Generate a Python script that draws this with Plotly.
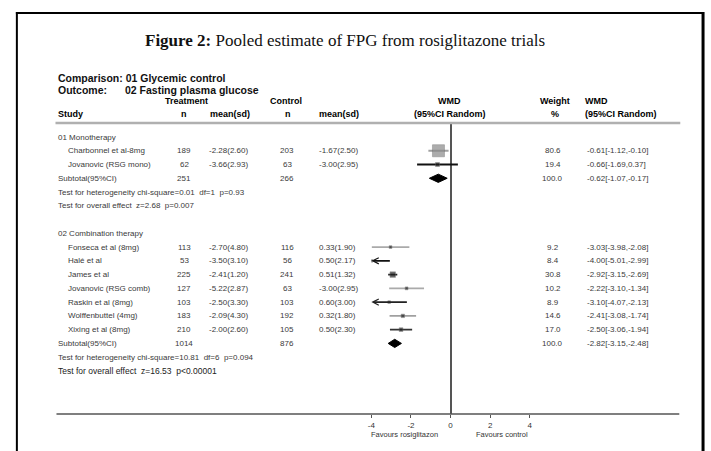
import plotly.graph_objects as go

W, H = 711, 451

# ---------------- data ----------------
group_names = ["01 Monotherapy", "02 Combination therapy"]
studies = ["Charbonnel et al-8mg", "Jovanovic (RSG mono)", "Fonseca et al (8mg)", "Halé et al",
           "James et al", "Jovanovic (RSG comb)", "Raskin et al (8mg)", "Wolffenbuttel (4mg)",
           "Xixing et al (8mg)"]
study_group = [0, 0, 1, 1, 1, 1, 1, 1, 1]
treat_n = [189, 62, 113, 53, 225, 127, 103, 183, 210]
treat_mean = [-2.28, -3.66, -2.70, -3.50, -2.41, -5.22, -2.50, -2.09, -2.00]
treat_sd = [2.60, 2.93, 4.80, 3.10, 1.20, 2.87, 3.30, 4.30, 2.60]
ctrl_n = [203, 63, 116, 56, 241, 63, 103, 192, 105]
ctrl_mean = [-1.67, -3.00, 0.33, 0.50, 0.51, -3.00, 0.60, 0.32, 0.50]
ctrl_sd = [2.50, 2.95, 1.90, 2.17, 1.32, 2.95, 3.00, 1.80, 2.30]
weights = [80.6, 19.4, 9.2, 8.4, 30.8, 10.2, 8.9, 14.6, 17.0]
wmd = [-0.61, -0.66, -3.03, -4.00, -2.92, -2.22, -3.10, -2.41, -2.50]
wmd_lo = [-1.12, -1.69, -3.98, -5.01, -3.15, -3.10, -4.07, -3.08, -3.06]
wmd_hi = [-0.10, 0.37, -2.08, -2.99, -2.69, -1.34, -2.13, -1.74, -1.94]

sub_n_t = [251, 1014]
sub_n_c = [266, 876]
sub_weight = [100.0, 100.0]
sub_wmd = [-0.62, -2.82]
sub_lo = [-1.07, -3.15]
sub_hi = [-0.17, -2.48]
het_chi = [0.01, 10.81]
het_df = [1, 6]
het_p = ["p=0.93", "p=0.094"]
z_val = [2.68, 16.53]
z_p = ["p=0.007", "p<0.00001"]

tick_vals = [-4, -2, 0, 2, 4]
tick_text = ["-4", "-2", "0", "2", "4"]
x_min, x_max = -4, 4

# ---------------- styles ----------------
line_cols = ["#a0a0a0", "#111111", "#aaaaaa", "#111111", "#222222", "#aaaaaa", "#222222", "#a0a0a0", "#333333"]
SANS = "Liberation Sans, Arial, sans-serif"
NARROW = "Liberation Sans Narrow, Arial Narrow, Liberation Sans, sans-serif"
SERIF = "Liberation Serif, Times New Roman, serif"
TXT = "#3a3a3a"
NB = "\u00a0"

def px(x):
    return x / W

def py(y):
    return 1 - y / H

ROW0, ROWH = 137, 13.76
TOP_PX, AXIS_PX = 123, 414

rows = []
for g in range(len(group_names)):
    rows.append(("group", g))
    for i, sg in enumerate(study_group):
        if sg == g:
            rows.append(("study", i))
    rows.append(("sub", g))
    rows.append(("het", g))
    rows.append(("z", g))
    if g < len(group_names) - 1:
        rows.append(("blank", g))

fig = go.Figure()
ann = []

def rtext(x, r, s, anchor="left", size=8, color=TXT, family=SANS):
    ann.append(dict(x=px(x), xref="paper", y=r, yref="y", text=s, showarrow=False,
                    xanchor=anchor, yanchor="middle", font=dict(size=size, color=color, family=family)))

def ptext(x, y, s, anchor="left", size=8, color="#000", family=SANS):
    ann.append(dict(x=px(x), xref="paper", y=py(y), yref="paper", text=s, showarrow=False,
                    xanchor=anchor, yanchor="middle", font=dict(size=size, color=color, family=family)))

X_STUDY, X_STUDY_IND = 53, 63
X_TN, X_TM, X_CN, X_CM = 182, 227, 286, 316
X_W, X_WMD = 554, 587

line_x, line_y = {}, {}
for r, (kind, k) in enumerate(rows):
    if kind == "group":
        rtext(X_STUDY, r, group_names[k])
    elif kind == "study":
        i = k
        rtext(X_STUDY_IND, r, studies[i])
        rtext(X_TN, r, str(treat_n[i]), "center")
        rtext(X_TM, r, f"{treat_mean[i]:.2f}({treat_sd[i]:.2f})", "center")
        rtext(X_CN, r, str(ctrl_n[i]), "center")
        rtext(X_CM, r, f"{ctrl_mean[i]:.2f}({ctrl_sd[i]:.2f})", "left")
        rtext(X_W, r, f"{weights[i]:.1f}", "center")
        rtext(X_WMD, r, f"{wmd[i]:.2f}[{wmd_lo[i]:.2f},{wmd_hi[i]:.2f}]")
        lo = max(wmd_lo[i], x_min)
        hi = min(wmd_hi[i], x_max)
        c = line_cols[i]
        if wmd_lo[i] < x_min:
            ann.append(dict(x=x_min, y=r, xref="x", yref="y", ax=hi, ay=r, axref="x", ayref="y",
                            showarrow=True, arrowhead=5, arrowsize=0.75, arrowwidth=1.6,
                            arrowcolor=c, text=""))
        else:
            line_x.setdefault(c, []).extend([lo, hi, None])
            line_y.setdefault(c, []).extend([r, r, None])
    elif kind == "sub":
        g = k
        rtext(X_STUDY, r, "Subtotal(95%CI)")
        rtext(X_TN, r, str(sub_n_t[g]), "center")
        rtext(X_CN, r, str(sub_n_c[g]), "center")
        rtext(X_W, r, f"{sub_weight[g]:.1f}", "center")
        rtext(X_WMD, r, f"{sub_wmd[g]:.2f}[{sub_lo[g]:.2f},{sub_hi[g]:.2f}]")
        h = 0.30
        fig.add_trace(go.Scatter(
            x=[sub_lo[g], sub_wmd[g], sub_hi[g], sub_wmd[g], sub_lo[g]],
            y=[r, r - h, r, r + h, r], mode="lines", fill="toself",
            fillcolor="#000000", line=dict(color="#000000", width=1), hoverinfo="skip"))
    elif kind == "het":
        g = k
        rtext(X_STUDY, r, f"Test for heterogeneity chi-square={het_chi[g]:.2f}{NB*2}df={het_df[g]}{NB*2}{het_p[g]}")
    elif kind == "z":
        g = k
        rtext(X_STUDY, r, f"Test for overall effect{NB*2}z={z_val[g]:.2f}{NB*2}{z_p[g]}",
              size=8.5 if g == 1 else 8, color="#222" if g == 1 else TXT)

for c in line_x:
    fig.add_trace(go.Scatter(x=line_x[c], y=line_y[c], mode="lines",
                             line=dict(color=c, width=1.8), hoverinfo="skip"))

bx, by, bs, bc = [], [], [], []
for r, (kind, k) in enumerate(rows):
    if kind == "study":
        bx.append(wmd[k])
        by.append(r)
        bs.append(1.5 + 10.5 * weights[k] / max(weights))
        bc.append("#8a8a8a" if weights[k] > 50 else "#222222")
fig.add_trace(go.Scatter(x=bx, y=by, mode="markers",
                         marker=dict(symbol="square", size=bs, color=bc,
                                     line=dict(color="#666", width=0.6)),
                         hoverinfo="skip"))

HB = 9
ptext(53, 78, "<b>Comparison: 01 Glycemic control</b>", size=10.5, family=NARROW, color="#111")
ptext(53, 90, "<b>Outcome:</b>", size=10.5, family=NARROW, color="#111")
ptext(120, 90, "<b>02 Fasting plasma glucose</b>", size=10.5, family=NARROW, color="#111")
ptext(184, 101, "<b>Treatment</b>", "center", HB, family=NARROW)
ptext(285, 101, "<b>Control</b>", "center", HB, family=NARROW)
ptext(450, 101, "<b>WMD</b>", "center", HB, family=NARROW)
ptext(556, 101, "<b>Weight</b>", "center", HB, family=NARROW)
ptext(585, 101, "<b>WMD</b>", "left", HB, family=NARROW)
ptext(53, 114, "<b>Study</b>", "left", HB, family=NARROW)
ptext(182, 114, "<b>n</b>", "center", HB, family=NARROW)
ptext(228, 114, "<b>mean(sd)</b>", "center", HB, family=NARROW)
ptext(287, 114, "<b>n</b>", "center", HB, family=NARROW)
ptext(338, 114, "<b>mean(sd)</b>", "center", HB, family=NARROW)
ptext(450, 114, "<b>(95%CI Random)</b>", "center", HB, family=NARROW)
ptext(556, 114, "<b>%</b>", "center", HB, family=NARROW)
ptext(585, 114, "<b>(95%CI Random)</b>", "left", HB, family=NARROW)

ptext(344, 40, "<b>Figure 2:</b> Pooled estimate of FPG from rosiglitazone trials", "center", 17,
      family=SERIF, color="#111")

ptext(404, 434, "Favours rosiglitazon", "center", 7.5, color="#333")
ptext(503, 434, "Favours control", "center", 7.5, color="#333")

shapes = [
    dict(type="line", xref="paper", yref="paper", x0=px(13), x1=px(13), y0=py(12), y1=0,
         line=dict(color="#000", width=2), layer="above"),
    dict(type="line", xref="paper", yref="paper", x0=px(12), x1=px(707), y0=py(13), y1=py(13),
         line=dict(color="#000", width=2), layer="above"),
    dict(type="line", xref="paper", yref="paper", x0=px(706), x1=px(706), y0=py(12), y1=0,
         line=dict(color="#000", width=3), layer="above"),
    dict(type="line", xref="paper", yref="paper", x0=px(52), x1=px(683), y0=py(123), y1=py(123),
         line=dict(color="#b0b0b0", width=2.5)),
    dict(type="line", xref="paper", yref="paper", x0=px(53), x1=px(682), y0=py(AXIS_PX), y1=py(AXIS_PX),
         line=dict(color="#555", width=1.5)),
]

r_top = (TOP_PX - ROW0) / ROWH
r_bot = (AXIS_PX - ROW0) / ROWH

fig.update_layout(
    width=W, height=H, margin=dict(l=0, r=0, t=0, b=0),
    paper_bgcolor="#ffffff", plot_bgcolor="rgba(0,0,0,0)", showlegend=False,
    annotations=ann, shapes=shapes,
    xaxis=dict(domain=[px(451 + 20 * x_min), px(451 + 20 * x_max)], range=[x_min, x_max],
               tickvals=tick_vals, ticktext=tick_text, ticks="outside", ticklen=3,
               tickcolor="#555", tickwidth=1, showgrid=False, showline=False,
               zeroline=True, zerolinecolor="#555", zerolinewidth=1.5,
               tickfont=dict(size=8, color="#333", family=SANS), fixedrange=True),
    yaxis=dict(domain=[py(AXIS_PX), py(TOP_PX)], range=[r_bot, r_top], visible=False,
               showgrid=False, zeroline=False, fixedrange=True),
)

fig.write_html("out.html", config={"displayModeBar": False})

with open("out.html", "r", encoding="utf-8") as f:
    html = f.read()
html = html.replace("<body>", '<body style="margin:0;padding:0;overflow:hidden">', 1)
with open("out.html", "w", encoding="utf-8") as f:
    f.write(html)
